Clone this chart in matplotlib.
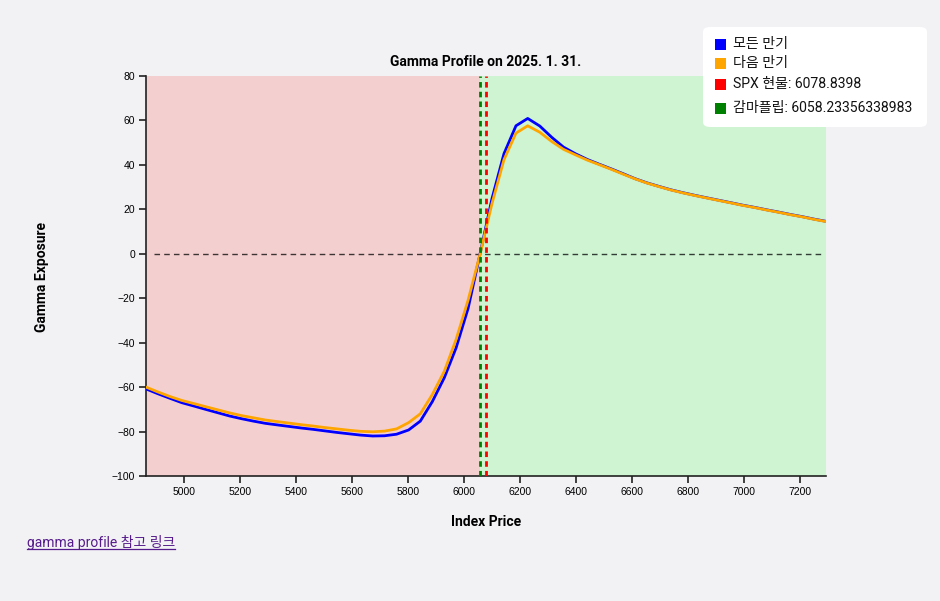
import matplotlib
matplotlib.use("Agg")
import matplotlib.pyplot as plt
from matplotlib.patches import FancyBboxPatch, Rectangle
from matplotlib.lines import Line2D

# ---------------- data ----------------
levels = [4863, 4906, 4948, 4991, 5034, 5076, 5119, 5162, 5204, 5247,
          5290, 5332, 5375, 5418, 5460, 5503, 5546, 5588, 5631, 5674,
          5716, 5759, 5802, 5844, 5887, 5930, 5972, 6015, 6058, 6100,
          6143, 6186, 6228, 6271, 6314, 6356, 6399, 6442, 6484, 6527,
          6570, 6612, 6655, 6698, 6740, 6783, 6826, 6868, 6911, 6954,
          6996, 7039, 7082, 7124, 7167, 7210, 7252, 7295]

gamma_all = [-60.8, -63.0, -65.0, -67.0, -68.5, -70.0, -71.5, -73.0, -74.2, -75.3,
             -76.3, -77.0, -77.7, -78.4, -79.0, -79.7, -80.4, -81.0, -81.6, -82.0,
             -81.9, -81.2, -79.3, -75.3, -66.5, -55.7, -42.3, -24.5, 0.2, 24.7,
             45.0, 57.6, 60.9, 57.5, 52.4, 48.0, 45.0, 42.4, 40.3, 38.2,
             36.0, 33.8, 31.9, 30.3, 28.8, 27.5, 26.3, 25.2, 24.1, 23.0,
             21.9, 20.9, 19.8, 18.8, 17.7, 16.7, 15.6, 14.6]

gamma_next = [-60.0, -62.2, -64.2, -66.0, -67.4, -68.8, -70.2, -71.6, -72.8, -73.8,
              -74.8, -75.5, -76.2, -76.9, -77.5, -78.2, -78.8, -79.4, -79.9, -80.1,
              -79.8, -78.8, -76.0, -72.0, -63.3, -52.8, -38.5, -20.8, 0.0, 22.5,
              42.3, 54.3, 57.6, 54.7, 50.5, 47.0, 44.5, 42.1, 40.1, 38.0,
              35.8, 33.7, 31.8, 30.2, 28.7, 27.4, 26.2, 25.1, 24.0, 22.9,
              21.8, 20.8, 19.7, 18.7, 17.6, 16.6, 15.5, 14.5]

spot_price = 6078.8398
flip_point = 6058.23356338983
x_min, x_max = 4863.07, 7294.61
y_min, y_max = -100, 80
x_ticks = [5000, 5200, 5400, 5600, 5800, 6000, 6200, 6400, 6600, 6800, 7000, 7200]
y_ticks = [-100, -80, -60, -40, -20, 0, 20, 40, 60, 80]

title = "Gamma Profile on 2025. 1. 31."
legend_labels = ["모든 만기", "다음 만기", f"SPX 현물: {spot_price}", f"감마플립: {flip_point}"]
legend_colors = ["#0000ff", "#ffa500", "#ff0000", "#008000"]
link_text = "gamma profile 참고 링크"

# ---------------- figure ----------------
W, H = 940, 601
BG = "#f2f2f5"
fig = plt.figure(figsize=(W / 100, H / 100), dpi=100, facecolor=BG)

L, R, T, B = 146, 826, 76, 476
ax = fig.add_axes([L / W, 1 - B / H, (R - L) / W, (B - T) / H])
ax.set_facecolor(BG)
ax.set_xlim(x_min, x_max)
ax.set_ylim(y_min, y_max)

ax.axvspan(x_min, flip_point, color="#f4cfd0", zorder=0, lw=0)
ax.axvspan(flip_point, x_max, color="#cff4d2", zorder=0, lw=0)

ax.plot(levels, gamma_all, color="#0000ff", lw=2, zorder=3)
ax.plot(levels, gamma_next, color="#ffa500", lw=2, zorder=4)

ax.axhline(0, color="black", lw=1, ls=(0, (4, 3)), alpha=0.75, zorder=2,
           xmin=0.012, xmax=0.995)
ax.axvline(flip_point, color="#008000", lw=2, ls=(0, (2, 1.5)), zorder=5)
ax.axvline(spot_price, color="#ff0000", lw=2, ls=(0, (2, 1.5)), zorder=5)

for s in ["top", "right"]:
    ax.spines[s].set_visible(False)
for s in ["left", "bottom"]:
    ax.spines[s].set_color("#222222")
    ax.spines[s].set_linewidth(1.2)

tick_font = dict(family=["Liberation Sans", "DejaVu Sans"], size=7.5)
ax.set_xticks(x_ticks)
ax.set_yticks(y_ticks)
ax.set_xticklabels([str(v) for v in x_ticks], **tick_font)
ax.set_yticklabels([str(v).replace("-", "\u2212") for v in y_ticks], **tick_font)
ax.tick_params(axis="both", length=5, width=1.2, color="#222222", pad=3)

fig.text((L + R) / 2 / W, 1 - 62 / H, title, ha="center", va="center",
         fontsize=10, fontweight="bold", family=["Roboto", "DejaVu Sans"])
fig.text((L + R) / 2 / W, 1 - 522 / H, "Index Price", ha="center", va="center",
         fontsize=10, fontweight="bold", family=["Roboto", "DejaVu Sans"])
fig.text(42 / W, 1 - 277 / H, "Gamma Exposure", ha="center", va="center",
         rotation=90, fontsize=10, fontweight="bold", family=["Roboto", "DejaVu Sans"])

# legend box
bx0, by0, bx1, by1 = 703, 27, 927, 127
box = FancyBboxPatch((bx0 / W, 1 - by1 / H), (bx1 - bx0) / W, (by1 - by0) / H,
                     boxstyle="round,pad=0,rounding_size=0.008",
                     transform=fig.transFigure, facecolor="white", edgecolor="none",
                     zorder=10)
fig.patches.append(box)
rows_y = [44, 63, 84, 108]
for lab, col, yy in zip(legend_labels, legend_colors, rows_y):
    fig.patches.append(Rectangle((715 / W, 1 - (yy + 6) / H), 11 / W, 11 / H,
                                 transform=fig.transFigure, facecolor=col,
                                 edgecolor="none", zorder=11))
    fig.text(733 / W, 1 - yy / H, lab, ha="left", va="center", fontsize=10.1,
             family=["Roboto", "Noto Sans CJK KR"], color="#111111", zorder=12)

# link text with underline
lt = fig.text(27 / W, 1 - 542 / H, link_text, ha="left", va="center", fontsize=10,
              family=["Roboto", "Noto Sans CJK KR"], color="#551a8b")
fig.canvas.draw()
bb = lt.get_window_extent()
fig.lines.append(Line2D([bb.x0 / W, bb.x1 / W], [(1 - 549 / H), (1 - 549 / H)],
                        transform=fig.transFigure, color="#551a8b", lw=0.9))

fig.savefig("out.png", dpi=100, facecolor=BG)
